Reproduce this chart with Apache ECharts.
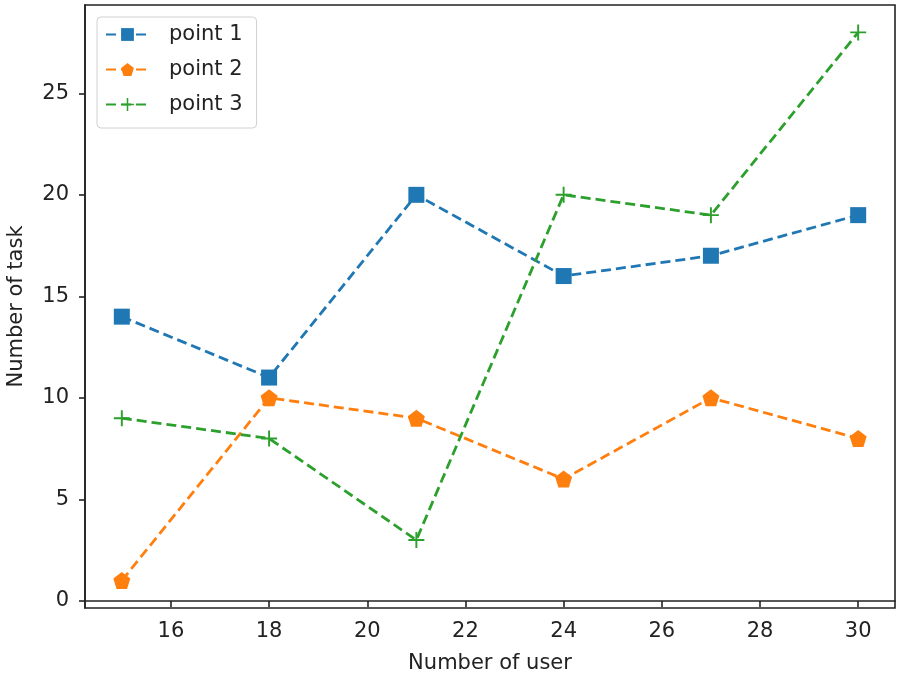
<!DOCTYPE html>
<html>
<head>
<meta charset="utf-8">
<script src="https://cdn.jsdelivr.net/npm/echarts@6/dist/echarts.min.js"></script>
<style>html,body{margin:0;padding:0;background:#fff}#c{width:900px;height:681px}</style>
</head>
<body>
<div id="c"></div>
<script>
const users = [15, 18, 21, 24, 27, 30];
const point1 = [14, 11, 20, 16, 17, 19];
const point2 = [1, 10, 9, 6, 10, 8];
const point3 = [9, 8, 3, 20, 19, 28];
const xTicks = [16, 18, 20, 22, 24, 26, 28, 30];
const yTicks = [0, 5, 10, 15, 20, 25];
const seriesNames = ['point 1', 'point 2', 'point 3'];

const pentagon = 'path://M0,-1 L0.951,-0.309 L0.588,0.809 L-0.588,0.809 L-0.951,-0.309 Z';
const plus = 'path://M-0.12,-1 L0.12,-1 L0.12,-0.12 L1,-0.12 L1,0.12 L0.12,0.12 L0.12,1 L-0.12,1 L-0.12,0.12 L-1,0.12 L-1,-0.12 L-0.12,-0.12 Z';

const font = 'DejaVu Sans';
const fs = 21;
const pair = arr => users.map((u, i) => [u, arr[i]]);

const chart = echarts.init(document.getElementById('c'), null, {renderer: 'canvas'});
chart.setOption({
  animation: false,
  backgroundColor: '#fff',
  textStyle: {fontFamily: font},
  grid: {left: 85, right: 5, top: 5, bottom: 73, containLabel: false, outerBoundsMode: 'none',
         show: true, borderColor: '#222', borderWidth: 1.6},
  legend: {
    orient: 'vertical', left: 97, top: 17,
    padding: [7, 14, 13, 8],
    itemGap: 14, itemWidth: 43, itemHeight: 16,
    backgroundColor: 'rgba(255,255,255,0.8)', borderColor: '#d0d0d0', borderWidth: 1, borderRadius: 4,
    textStyle: {fontSize: fs, color: '#222', fontFamily: font, padding: [0, 0, 0, 15]},
    data: seriesNames
  },
  xAxis: {
    type: 'value', min: 14.25, max: 30.75,
    name: 'Number of user', nameLocation: 'middle', nameGap: 45,
    nameTextStyle: {fontSize: fs, color: '#222', fontFamily: font},
    axisLine: {show: true, lineStyle: {color: '#222', width: 1.6}},
    axisTick: {show: true, customValues: xTicks, length: 6, lineStyle: {color: '#222', width: 1.6}},
    axisLabel: {customValues: xTicks, fontSize: fs, color: '#222', margin: 13, fontFamily: font},
    splitLine: {show: false}
  },
  yAxis: {
    type: 'value', min: -0.35, max: 29.35,
    name: 'Number of task', nameLocation: 'middle', nameGap: 58, nameRotate: 90,
    nameTextStyle: {fontSize: fs, color: '#222', fontFamily: font},
    axisLine: {show: true, lineStyle: {color: '#222', width: 1.6}},
    axisTick: {show: true, customValues: yTicks, length: 6, lineStyle: {color: '#222', width: 1.6}},
    axisLabel: {customValues: yTicks, fontSize: fs, color: '#222', margin: 16, fontFamily: font},
    splitLine: {show: false}
  },
  series: [
    {name: seriesNames[0], type: 'line', data: pair(point1), symbol: 'rect', symbolSize: 16,
     itemStyle: {color: '#1f77b4'}, lineStyle: {type: [10, 5], width: 2.8, color: '#1f77b4'}},
    {name: seriesNames[1], type: 'line', data: pair(point2), symbol: pentagon, symbolSize: 17,
     itemStyle: {color: '#ff7f0e'}, lineStyle: {type: [10, 5], width: 2.8, color: '#ff7f0e'}},
    {name: seriesNames[2], type: 'line', data: pair(point3), symbol: plus, symbolSize: 16,
     itemStyle: {color: '#2ca02c'}, lineStyle: {type: [10, 5], width: 2.8, color: '#2ca02c'}}
  ]
});
</script>
</body>
</html>
